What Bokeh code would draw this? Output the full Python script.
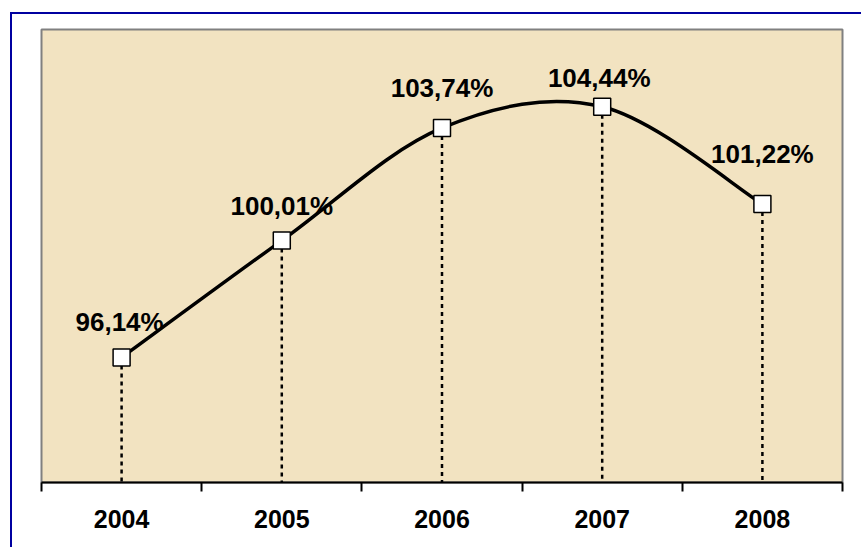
from bokeh.plotting import figure
from bokeh.models import Range1d, FixedTicker, ColumnDataSource
from bokeh.core.properties import value
from bokeh.embed import file_html
from bokeh.resources import INLINE

years = ["2004", "2005", "2006", "2007", "2008"]
values = [96.14, 100.01, 103.74, 104.44, 101.22]
labels = ["96,14%", "100,01%", "103,74%", "104,44%", "101,22%"]

# style: per-label pixel offsets (labels were hand-placed in the original)
label_dx = [-2, 0, 0, -3, 0]
label_dy = [-35, -35, -40, -29, -50]

Y0, Y1 = 92, 107
xs = [i + 0.5 for i in range(len(years))]

p = figure(frame_width=801, frame_height=453,
           min_border_left=29, min_border_right=19,
           min_border_top=15, min_border_bottom=65,
           x_range=Range1d(0, len(years)), y_range=Range1d(Y0, Y1),
           y_axis_location=None, toolbar_location=None,
           output_backend="svg",
           margin=(12, 0, 0, 10),
           styles={"border-left": "2px solid #0000a0", "border-top": "2px solid #0000a0"})

p.background_fill_color = "#F2E3C1"
p.border_fill_color = "white"
p.outline_line_color = "#808080"
p.outline_line_width = 2
p.grid.visible = False

ax = p.xaxis[0]
ax.ticker = FixedTicker(ticks=xs, minor_ticks=list(range(len(years) + 1)))
ax.major_label_overrides = {x: y for x, y in zip(xs, years)}
ax.major_tick_out = 0
ax.major_tick_in = 0
ax.minor_tick_out = 9
ax.minor_tick_in = 0
ax.minor_tick_line_color = "black"
ax.minor_tick_line_width = 2
ax.axis_line_color = "black"
ax.axis_line_width = 2
ax.major_label_text_font = "Liberation Sans"
ax.major_label_text_font_style = "bold"
ax.major_label_text_font_size = "25px"
ax.major_label_text_color = "black"
ax.major_label_standoff = 18

# drop lines
p.segment(x0=xs, y0=values, x1=xs, y1=[Y0] * len(xs),
          line_color="black", line_width=2.5, line_dash="4 4")

# smoothed line (Bezier segments, Catmull-Rom style control points)
n = len(xs)
x0s, y0s, x1s, y1s, cx0, cy0, cx1, cy1 = [], [], [], [], [], [], [], []
for i in range(n - 1):
    pm = max(i - 1, 0)
    pp = min(i + 2, n - 1)
    x0s.append(xs[i]); y0s.append(values[i])
    x1s.append(xs[i + 1]); y1s.append(values[i + 1])
    cx0.append(xs[i] + (xs[i + 1] - xs[pm]) / 6)
    cy0.append(values[i] + (values[i + 1] - values[pm]) / 6)
    cx1.append(xs[i + 1] - (xs[pp] - xs[i]) / 6)
    cy1.append(values[i + 1] - (values[pp] - values[i]) / 6)
p.bezier(x0=x0s, y0=y0s, x1=x1s, y1=y1s, cx0=cx0, cy0=cy0, cx1=cx1, cy1=cy1,
         line_color="black", line_width=3.5)

p.scatter(xs, values, marker="square", size=17, fill_color="white",
          line_color="black", line_width=1.5)

src = ColumnDataSource(dict(x=xs, y=values, t=labels, dx=label_dx, dy=label_dy))
p.text(x="x", y="y", text="t", x_offset="dx", y_offset="dy", source=src,
       text_font=value("Liberation Sans"), text_font_style="bold",
       text_font_size="26px", text_color="black",
       text_align="center", text_baseline="alphabetic")

open("out.html", "w").write(file_html(p, INLINE))
